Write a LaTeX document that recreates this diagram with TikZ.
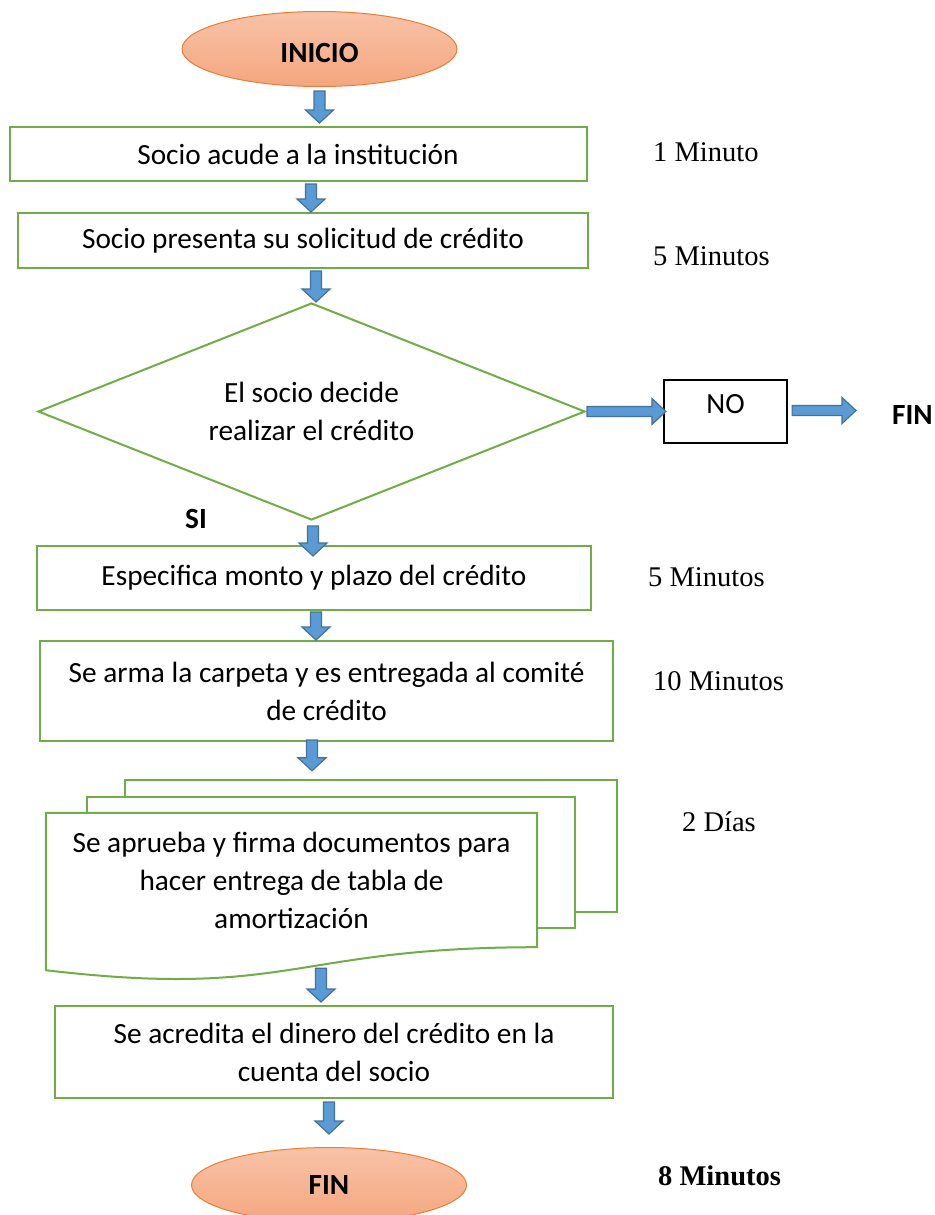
\documentclass[tikz,border=0pt]{standalone}
\usepackage{fontspec}
\setmainfont{Carlito}
\newfontfamily\tiempos{Liberation Serif}
\usetikzlibrary{positioning,calc,shapes.geometric,backgrounds}

\definecolor{verde}{HTML}{70AD47}
\definecolor{azul}{HTML}{5B9BD5}
\definecolor{azulosc}{HTML}{41719C}
\definecolor{naranja}{HTML}{F4A67F}
\definecolor{naranjaclaro}{HTML}{F8C3A7}
\definecolor{naranjaborde}{HTML}{ED7D31}

\begin{document}
\begin{tikzpicture}[
  x=1pt, y=-1pt,
  texto/.style={font=\fontsize{29.3}{38}\selectfont},
  caja/.style={texto, draw=verde, line width=2pt, align=center, inner sep=0pt, fill=white},
  term/.style={ellipse, draw=naranjaborde, line width=1pt, top color=naranjaclaro,
               bottom color=naranja, minimum width=275pt, minimum height=75pt,
               font=\fontsize{29.3}{38}\selectfont\bfseries},
  rotulo/.style={font=\fontsize{29.3}{38}\selectfont\bfseries, inner sep=0pt},
  tiempo/.style={font=\tiempos\fontsize{28.5}{34}\selectfont, anchor=west, inner sep=0pt},
  hoja/.style={draw=verde, line width=2pt, fill=white},
  flecha/.style={fill=azul, draw=azulosc, line width=1.2pt, line join=miter},
  vflecha/.style={flecha, to path={let \p1=(\tikztostart), \p2=(\tikztotarget) in
      (\x1-5.5pt,\y1) -- (\x1+5.5pt,\y1) -- (\x1+5.5pt,\y2+13pt) -- (\x1+14pt,\y2+13pt)
      -- (\x1,\y2) -- (\x1-14pt,\y2+13pt) -- (\x1-5.5pt,\y2+13pt) -- cycle}},
  hflecha/.style={flecha, to path={let \p1=(\tikztostart), \p2=(\tikztotarget) in
      (\x1,\y1+5pt) -- (\x2-14pt,\y1+5pt) -- (\x2-14pt,\y1+13pt) -- (\x2,\y1)
      -- (\x2-14pt,\y1-13pt) -- (\x2-14pt,\y1-5pt) -- (\x1,\y1-5pt) -- cycle}}
]
\useasboundingbox (0,0) rectangle (934,1215);

\node[term, text height=27pt] (inicio) at (319.5,49) {INICIO};
\node[caja, minimum width=577pt, minimum height=54pt] (paso1) at (298,154) {Socio acude a la institución};
\node[caja, minimum width=570pt, minimum height=55pt] (paso2) at (303,240.5) {Socio presenta su solicitud de crédito};
\node[caja, diamond, aspect=2.6, minimum width=547pt, minimum height=217pt] (decide) at (311.5,411.5)
   {El socio decide\\realizar el crédito};
\node[texto, draw=black, line width=2.2pt, minimum width=123pt, minimum height=63pt,
      inner sep=0pt, text depth=16pt] (no) at (725.5,411.5) {NO};
\node[rotulo, anchor=west] (finno) at (892,415) {FIN};
\node[rotulo] (si) at (196,519) {SI};
\node[caja, minimum width=554pt, minimum height=64pt] (paso3) at (314,578) {Especifica monto y plazo del crédito};
\node[caja, minimum width=573pt, minimum height=100pt] (paso4) at (326.5,691)
   {Se arma la carpeta y es entregada al comité\\de crédito};

% documento multiple
\node[texto, align=center, minimum width=491pt, minimum height=134pt, inner sep=0pt] (aprueba) at (291.5,880)
   {Se aprueba y firma documentos para\\hacer entrega de tabla de\\amortización};
\begin{scope}[on background layer]
  \draw[hoja] ($(aprueba.north west)+(79,-33)$) rectangle ($(aprueba.south east)+(80,-35)$);
  \draw[hoja] ($(aprueba.north west)+(41,-16)$) rectangle ($(aprueba.south east)+(38,-19)$);
  \draw[hoja] (aprueba.north west) -- (aprueba.north east) -- (aprueba.south east)
     .. controls (aprueba.south) and ($(aprueba.south)+(0,52)$) .. ($(aprueba.south west)+(0,23)$) -- cycle;
\end{scope}

\node[caja, minimum width=558pt, minimum height=92pt] (paso5) at (334,1052)
   {Se acredita el dinero del crédito en la\\cuenta del socio};
\node[term] (fin) at (329,1185) {FIN};

% tiempos
\node[tiempo] (t1) at (653,152) {1 Minuto};
\node[tiempo] (t2) at (653,256) {5 Minutos};
\node[tiempo] (t3) at (648,577) {5 Minutos};
\node[tiempo] (t4) at (653,681) {10 Minutos};
\node[tiempo] (t5) at (682,822) {2 Días};
\node[tiempo] (t6) at (658,1176) {\bfseries 8 Minutos};

% flechas
\path[vflecha] (inicio.south) ++(0,4) to ($(paso1.north)+(0,-3)$);
\path[vflecha] (paso1.south) ++(13,2) to (paso2.north);
\path[vflecha] (paso2.south) ++(13,2) to (decide.north);
\path[vflecha] (decide.south) ++(1.5,5) to ($(paso3.north)+(0,11)$);
\path[vflecha] (paso3.south) ++(2,1) to (paso4.north);
\path[vflecha] (paso4.south) ++(-14.5,-2) to ($(aprueba.north)+(0,-42)$);
\path[vflecha] (aprueba.south) ++(29.5,21) to ($(paso5.north)+(0,-3)$);
\path[vflecha] (paso5.south) ++(-5,3) to ($(fin.north)+(0,-13)$);
\path[hflecha] (decide.east) ++(1,0) to ($(no.west)+(3,0)$);
\path[hflecha] (no.east) ++(4,-1) to ($(finno.west)+(-36,0)$);
\end{tikzpicture}
\end{document}
